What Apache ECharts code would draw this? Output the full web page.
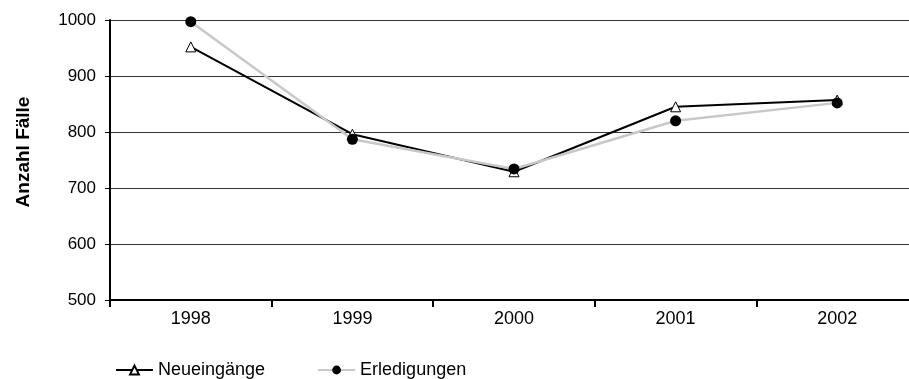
<!DOCTYPE html>
<html>
<head>
<meta charset="utf-8">
<script src="https://cdn.jsdelivr.net/npm/echarts@6/dist/echarts.min.js"></script>
<style>
  html, body { margin: 0; padding: 0; background: #fff; }
  #chart { width: 909px; height: 379px; }
</style>
</head>
<body>
<div id="chart"></div>
<script>
const years = ['1998', '1999', '2000', '2001', '2002'];
const neueingaenge = [952, 796, 729, 845, 857];
const erledigungen = [997, 787, 734, 820, 852];
const yTicks = [500, 600, 700, 800, 900, 1000];

const font = '"Liberation Sans", Arial, sans-serif';
const chart = echarts.init(document.getElementById('chart'));

chart.setOption({
  animation: false,
  // the plot runs slightly past the right edge of the picture
  grid: { left: 110, top: 20, width: 808, height: 280, outerBoundsMode: 'none' },
  legend: {
    left: 110,
    top: 356,
    itemGap: 52,
    itemWidth: 37,
    itemHeight: 11,
    textStyle: { fontFamily: font, fontSize: 18, color: '#000' },
    data: ['Neueingänge', 'Erledigungen']
  },
  xAxis: {
    type: 'category',
    data: years,
    boundaryGap: true,
    axisLine: { lineStyle: { color: '#000', width: 2 } },
    axisTick: { show: true, alignWithLabel: false, length: 7, lineStyle: { color: '#000', width: 2 } },
    axisLabel: { fontFamily: font, fontSize: 18, color: '#000', margin: 10 }
  },
  yAxis: {
    type: 'value',
    min: yTicks[0],
    max: yTicks[yTicks.length - 1],
    interval: 100,
    name: 'Anzahl Fälle',
    nameLocation: 'middle',
    nameGap: 77,
    nameRotate: 90,
    nameTextStyle: { fontFamily: font, fontSize: 19, fontWeight: 'bold', color: '#000', padding: [0, 0, 0, 16] },
    axisLine: { show: true, lineStyle: { color: '#000', width: 2 } },
    axisTick: { show: true, length: 5, lineStyle: { color: '#000', width: 1 } },
    axisLabel: { fontFamily: font, fontSize: 17, color: '#000', margin: 14, formatter: v => String(v) },
    splitLine: { lineStyle: { color: '#333', width: 1 } }
  },
  series: [
    {
      name: 'Neueingänge',
      type: 'line',
      data: neueingaenge,
      symbol: 'triangle',
      symbolSize: 10,
      lineStyle: { color: '#000', width: 2 },
      itemStyle: { color: '#fff', borderColor: '#000', borderWidth: 1 },
      z: 2
    },
    {
      name: 'Erledigungen',
      type: 'line',
      data: erledigungen,
      symbol: 'circle',
      symbolSize: 11,
      lineStyle: { color: '#c8c8c8', width: 2.5 },
      itemStyle: { color: '#000', borderColor: '#000', borderWidth: 0 },
      z: 3
    }
  ]
});
</script>
</body>
</html>
